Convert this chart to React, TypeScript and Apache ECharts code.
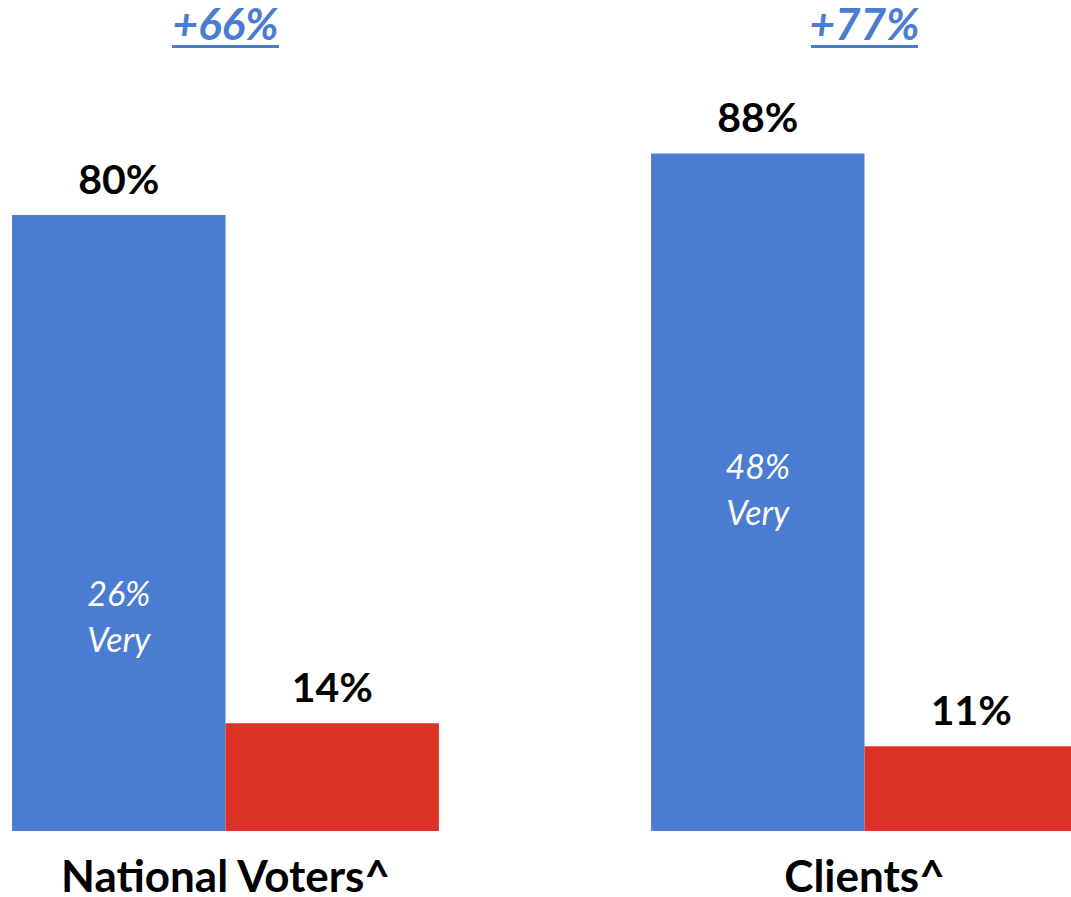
import React, { useEffect, useRef } from 'react';
import * as echarts from 'echarts';

const categories = ['National Voters^', 'Clients^'];
const favorable = [80, 88];
const unfavorable = [14, 11];
const veryFavorable = [26, 48];
const netDifference = ['+66%', '+77%'];

const BLUE = '#4A7CD1';
const RED = '#DC3227';
const FONT = 'Lato, "Noto Sans", sans-serif';

export default function App() {
  const ref = useRef<HTMLDivElement>(null);
  useEffect(() => {
    const chart = echarts.init(ref.current as HTMLDivElement, null, { renderer: 'svg' });
    const veryLabelY = [28, 44.5];
    chart.setOption({
      animation: false,
      grid: { left: 0, right: 0, top: 61, bottom: 66, containLabel: false },
      xAxis: [
        {
          type: 'category',
          data: categories,
          axisLine: { show: false },
          axisTick: { show: false },
          axisLabel: { fontSize: 44, fontWeight: 'bold', color: '#000', fontFamily: FONT, margin: 22 },
        },
        {
          type: 'category',
          position: 'top',
          data: netDifference,
          axisLine: { show: false },
          axisTick: { show: false },
          axisLabel: {
            margin: 13,
            formatter: (v: string) => `{t|${v}}\n{u|}`,
            rich: {
              t: { fontSize: 44, fontWeight: 'bold', fontStyle: 'italic', color: BLUE, fontFamily: FONT, lineHeight: 44 },
              u: { width: 107, height: 3, backgroundColor: BLUE },
            },
          },
        },
      ],
      yAxis: { type: 'value', min: 0, max: 100, show: false },
      series: [
        {
          type: 'bar',
          data: favorable,
          barGap: '0%',
          barCategoryGap: '33.2%',
          itemStyle: { color: BLUE },
          label: { show: true, position: 'top', distance: 16, formatter: '{c}%', fontSize: 41, fontWeight: 'bold', color: '#000', fontFamily: FONT },
          markPoint: {
            symbol: 'rect',
            symbolSize: 1,
            itemStyle: { color: 'rgba(0,0,0,0)' },
            label: {
              show: true,
              position: 'inside',
              formatter: (p: any) => `${p.value}%\nVery`,
              color: '#fff',
              fontStyle: 'italic',
              fontSize: 34,
              lineHeight: 46,
              fontFamily: FONT,
            },
            data: veryFavorable.map((v, i) => ({ coord: [categories[i], veryLabelY[i]], value: v })),
          },
        },
        {
          type: 'bar',
          data: unfavorable,
          itemStyle: { color: RED },
          label: { show: true, position: 'top', distance: 16, formatter: '{c}%', fontSize: 41, fontWeight: 'bold', color: '#000', fontFamily: FONT },
        },
      ],
    });
    return () => chart.dispose();
  }, []);
  return <div ref={ref} style={{ position: 'fixed', left: -94, top: 0, width: 1278, height: 897, background: '#fff' }} />;
}
